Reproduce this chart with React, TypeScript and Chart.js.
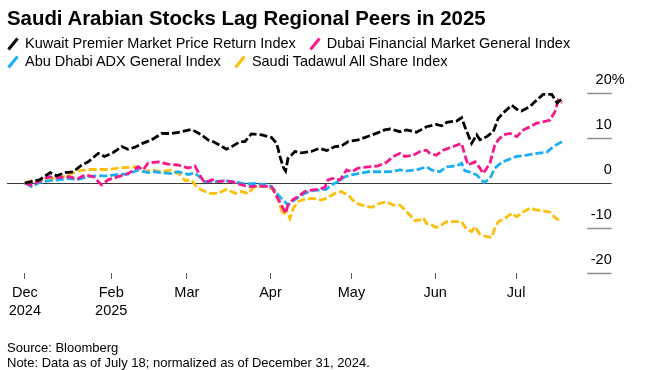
import React, { useEffect, useRef } from "react";
import { Chart, registerables } from "chart.js";

Chart.register(...registerables);

// ---------- DATA (x = days since Dec 31, 2024; y = % change) ----------
const SERIES_NAMES = [
  "Kuwait Premier Market Price Return Index",
  "Dubai Financial Market General Index",
  "Abu Dhabi ADX General Index",
  "Saudi Tadawul All Share Index",
];
const SERIES_COLORS = ["#000000", "#f7198c", "#1aaef2", "#fcbf0c"];

const KUWAIT_DAYS = [0, 2.3, 5.4, 9.4, 11.8, 14.9, 17.9, 21.1, 23.5, 27.2, 29.5, 32.6, 35.9, 38.2, 40.6, 43.6, 47, 50.7, 54.4, 58.1, 61.8, 65.5, 67.8, 69.7, 72.2, 74.7, 77, 79.7, 81.5, 83.9, 87.8, 91.4, 93.3, 94.5, 95.7, 96.6, 97.5, 98.8, 100, 102.6, 106.1, 109.1, 111.8, 114.9, 117.2, 119.8, 123.5, 127.3, 130.9, 133.3, 135.3, 139, 141.4, 145.1, 148.8, 152.4, 154.4, 156.3, 160, 161.8, 163, 164.2, 165.5, 167.4, 168.6, 171.1, 173.5, 175.4, 177.8, 180.4, 182.2, 184, 187.1, 189.6, 192, 195.2, 197.2, 199];
const KUWAIT_VALUES = [0, 0.3, 0.7, 2.3, 1.6, 2.3, 2.5, 4.0, 4.7, 6.6, 5.9, 6.7, 8.1, 7.5, 7.9, 8.8, 9.6, 11, 11, 11.4, 11.9, 10.7, 9.6, 9.2, 8.4, 7.5, 8.2, 9.2, 9.2, 10.9, 10.7, 10.1, 8.8, 5.9, 3.6, 2.7, 5.5, 6.2, 7.0, 6.7, 7.0, 7.7, 7.2, 8.1, 8.2, 9.2, 9.6, 10.4, 11.2, 11.8, 12, 11.4, 11.8, 11.3, 12.5, 13, 12.7, 13.5, 13.8, 14.5, 12.5, 10.7, 8.8, 10.7, 9.6, 10.3, 11.4, 14.4, 15.9, 17.3, 16.4, 16, 17, 18.4, 19.7, 19.7, 17.8, 18.7];

const DUBAI_DAYS = [0, 2.5, 5, 8.7, 12.4, 16.1, 19.8, 22.3, 25.4, 28.4, 30.9, 34.6, 38.3, 42, 43.8, 45.6, 49.5, 53.1, 56.7, 60.6, 63, 64.8, 66.7, 69.2, 71.6, 74.2, 76.6, 79.1, 82.7, 86.5, 91.4, 93.3, 95.1, 96.6, 97.5, 99.5, 101.3, 103.7, 106.1, 108.6, 111.1, 112.3, 114.2, 116.8, 119.2, 121.1, 123.5, 127.3, 130.9, 134, 136.5, 139, 140.8, 143.9, 146.4, 148.8, 150, 152.4, 155, 158.7, 161.8, 163, 164.2, 166.8, 168.6, 169.8, 171.1, 172.3, 174.1, 175.4, 177.2, 179.8, 182.2, 184.7, 187.1, 189.6, 192, 194.6, 196.4, 197.6, 199];
const DUBAI_VALUES = [0, -0.5, 0.3, 1.4, 1.2, 1.4, 1.0, 1.8, 1.4, -0.4, 0.7, 1.4, 2.1, 3.6, 2.9, 4.4, 4.7, 4.2, 4.0, 3.3, 3.8, 1.8, 0, 0.7, 0.3, 0.5, 0.3, -0.2, -0.8, -0.7, -0.8, -3, -4.9, -6.7, -4.9, -3.6, -3, -1.9, -1.6, -1.4, -1, 0.7, 1.0, 0.7, 2.9, 2.5, 3.3, 3.6, 3.8, 4.6, 5.9, 6.6, 5.9, 6.2, 7, 7.3, 6.6, 6.2, 7.3, 8.1, 8.8, 6.2, 4.0, 4.7, 3.3, 2.1, 3.3, 4.4, 8.4, 9.6, 10.7, 11, 10.3, 11.8, 12.5, 13.3, 13.6, 14, 15.9, 18.4, 17.8];

const ABUDHABI_DAYS = [0, 2.5, 5, 8.7, 12.4, 16.1, 19.8, 23.5, 27.2, 30.9, 34.6, 38.3, 42, 45.6, 48.1, 50.7, 54.4, 56.7, 60.6, 63, 65.5, 66.7, 70.4, 74.2, 77.9, 81.5, 85.2, 90.2, 92, 93.9, 95.7, 97.5, 99.5, 101.3, 103.7, 106.1, 108.6, 111.6, 113.6, 116, 118.6, 121.1, 123.5, 127.3, 130.9, 135.3, 139, 141.4, 145.1, 148.8, 150.6, 153.7, 156.3, 160, 161.8, 163, 164.9, 167.4, 168.6, 170.1, 172.3, 174.1, 176.6, 179.6, 182.2, 185.9, 189.6, 193.3, 195.8, 199];
const ABUDHABI_VALUES = [0, -0.8, 0, 0.5, 0.7, 1.0, 0.8, 1.4, 1.6, 1.6, 1.9, 2.0, 2.9, 2.3, 2.5, 2.3, 2.1, 2.5, 1.9, 2.2, 1.0, 0.3, 0.3, 0.5, 0.3, -0.2, -0.1, -0.4, -1.2, -2.7, -3.8, -4.9, -3.9, -3.2, -2.3, -1.7, -1.6, -1.4, -0.4, 0.3, 1.4, 1.8, 2.1, 2.5, 2.5, 2.5, 2.9, 2.7, 2.9, 3.6, 2.9, 2.5, 3.6, 3.8, 4.4, 2.7, 2.4, 1.8, 1.0, 0.1, 1.0, 3.3, 4.6, 5.3, 5.9, 6.2, 6.6, 6.8, 8.1, 9.2];

const SAUDI_DAYS = [0, 2.5, 5, 8.7, 12.4, 16.1, 19.8, 23.5, 27.2, 30.9, 34.6, 38.3, 41.3, 43.8, 47, 50.7, 54.4, 57.5, 59.4, 61.8, 63.7, 66.1, 68.6, 71.6, 74.8, 77.9, 80.3, 82.7, 84.6, 86.5, 90.2, 92.6, 94.5, 95.7, 96.9, 98.2, 99.5, 101.3, 103.7, 106.8, 109.9, 112.4, 114.9, 117.2, 119.8, 122.4, 124.8, 128.5, 131.6, 134, 136.5, 139, 140.8, 142.6, 144.5, 146.4, 147.6, 148.8, 150.6, 152.4, 154.4, 156.3, 160, 161.8, 163.6, 165.5, 166.7, 168.6, 171.1, 172.9, 174.1, 175.4, 177.8, 180.4, 182.2, 184.7, 187.1, 189.6, 192, 194.6, 196.4, 198.2];
const SAUDI_VALUES = [0, 0.5, 0.5, 1.0, 1.0, 1.8, 2.7, 3.0, 3.0, 3.0, 3.3, 3.5, 3.6, 2.5, 2.9, 2.5, 2.9, 1.8, 0.5, 0.7, -1, -1.7, -2.3, -2.3, -1.4, -2.3, -1.9, -2.4, -1, -0.8, -0.8, -1.6, -4.9, -7.1, -6, -7.9, -5.6, -4.1, -3.6, -3.4, -3.8, -3.2, -2.3, -1.9, -2.7, -4.4, -4.9, -5.4, -4.5, -4.2, -4.9, -4.9, -6, -7.1, -8.4, -8.2, -7.7, -9, -9.3, -9.9, -9.3, -8.6, -8.6, -8.6, -10.2, -10.8, -9.7, -11.4, -11.9, -12.1, -10, -8.6, -7.9, -6.7, -7.5, -6.4, -5.6, -6, -6.2, -6.5, -7.7, -8.4];

const X_TICK_DAYS = [0, 32, 60, 91, 121, 152, 182];
const X_TICK_LABELS = [["Dec", "2024"], ["Feb", "2025"], ["Mar"], ["Apr"], ["May"], ["Jun"], ["Jul"]];
const Y_TICKS = [20, 10, 0, -10, -20];
const Y_TICK_LABELS = ["20", "10", "0", "-10", "-20"];
const Y_UNIT = "%";

const TITLE = "Saudi Arabian Stocks Lag Regional Peers in 2025";
const SOURCE = "Source: Bloomberg";
const NOTE = "Note: Data as of July 18; normalized as of December 31, 2024.";

const FONT = '"Liberation Sans", Arial, Helvetica, sans-serif';

const SERIES_DAYS = [KUWAIT_DAYS, DUBAI_DAYS, ABUDHABI_DAYS, SAUDI_DAYS];
const SERIES_VALUES = [KUWAIT_VALUES, DUBAI_VALUES, ABUDHABI_VALUES, SAUDI_VALUES];

const yAxisPlugin = {
  id: "rightValueAxis",
  beforeDatasetsDraw(chart: any) {
    const { ctx, chartArea, scales } = chart;
    const y = scales.y;
    ctx.save();
    Y_TICKS.forEach((v, i) => {
      const py = Math.round(y.getPixelForValue(v)) + 0.5;
      ctx.beginPath();
      if (v === 0) {
        ctx.strokeStyle = "#3a3a3a";
        ctx.lineWidth = 1;
        ctx.moveTo(chartArea.left, py);
      } else {
        ctx.strokeStyle = "#8f8f8f";
        ctx.lineWidth = 1.5;
        ctx.moveTo(chartArea.right - 24.5, py);
      }
      ctx.lineTo(chartArea.right, py);
      ctx.stroke();
      ctx.fillStyle = "#000";
      ctx.font = `14.5px ${FONT}`;
      ctx.textBaseline = "middle";
      ctx.textAlign = "right";
      ctx.fillText(Y_TICK_LABELS[i], chartArea.right, py - 13.7);
      if (i === 0) {
        ctx.textAlign = "left";
        ctx.fillText(Y_UNIT, chartArea.right, py - 13.7);
      }
    });
    ctx.restore();
  },
};

function LegendItem({ color, label }: { color: string; label: string }) {
  return (
    <span style={{ display: "inline-flex", alignItems: "center", marginRight: 12, whiteSpace: "nowrap" }}>
      <svg width={14} height={14} style={{ marginRight: 5, flex: "none" }}>
        <line x1={2.5} y1={12.5} x2={11.5} y2={1.5} stroke={color} strokeWidth={3} />
      </svg>
      <span>{label}</span>
    </span>
  );
}

export default function App() {
  const canvasRef = useRef<HTMLCanvasElement | null>(null);

  useEffect(() => {
    if (!canvasRef.current) return;
    const chart = new Chart(canvasRef.current, {
      type: "line",
      data: {
        datasets: SERIES_NAMES.map((name, s) => ({
          label: name,
          data: SERIES_DAYS[s].map((d, i) => ({ x: d, y: SERIES_VALUES[s][i] })),
          borderColor: SERIES_COLORS[s],
          backgroundColor: SERIES_COLORS[s],
          borderWidth: 2.8,
          borderDash: [8, 3],
          pointRadius: 0,
          fill: false,
          tension: 0,
          clip: false as any,
        })),
      },
      options: {
        animation: false,
        responsive: false,
        devicePixelRatio: 1,
        layout: { padding: { left: 7, right: 54.3, top: 93, bottom: 37 } },
        plugins: {
          legend: { display: false },
          tooltip: { enabled: false },
          title: { display: false },
        },
        scales: {
          x: {
            type: "linear",
            min: -6.6,
            max: 217.4,
            border: { display: false },
            grid: { drawOnChartArea: false, drawTicks: true, tickLength: 6, color: "#555", tickWidth: 1 },
            ticks: {
              autoSkip: false,
              maxRotation: 0,
              minRotation: 0,
              padding: 5,
              color: "#000",
              font: { family: FONT, size: 14.5, lineHeight: 1.22 },
              callback: (value: any) => {
                const i = X_TICK_DAYS.indexOf(Number(value));
                return i >= 0 ? X_TICK_LABELS[i] : "";
              },
            },
            afterBuildTicks: (scale: any) => {
              scale.ticks = X_TICK_DAYS.map((v) => ({ value: v }));
            },
            afterFit: (scale: any) => {
              scale.height = 60;
            },
          },
          y: { type: "linear", min: -20, max: 20, display: false },
        },
      } as any,
      plugins: [yAxisPlugin],
    });
    return () => chart.destroy();
  }, []);

  return (
    <div style={{ position: "absolute", left: 0, top: 0, width: 666, height: 370, background: "#fff", fontFamily: FONT, color: "#000" }}>
      <canvas ref={canvasRef} width={666} height={370} style={{ position: "absolute", left: 0, top: 0, width: 666, height: 370 }} />
      <div style={{ position: "absolute", left: 7, top: 6, fontSize: 20.4, fontWeight: 700, lineHeight: "24px", whiteSpace: "nowrap" }}>
        {TITLE}
      </div>
      <div style={{ position: "absolute", left: 6, top: 35, width: 640, fontSize: 14.5, lineHeight: "17.7px" }}>
        <div style={{ height: 17.7, display: "flex", alignItems: "center" }}>
          <LegendItem color={SERIES_COLORS[0]} label={SERIES_NAMES[0]} />
          <LegendItem color={SERIES_COLORS[1]} label={SERIES_NAMES[1]} />
        </div>
        <div style={{ height: 17.7, display: "flex", alignItems: "center" }}>
          <LegendItem color={SERIES_COLORS[2]} label={SERIES_NAMES[2]} />
          <LegendItem color={SERIES_COLORS[3]} label={SERIES_NAMES[3]} />
        </div>
      </div>
      <div style={{ position: "absolute", left: 7, top: 340, fontSize: 13, lineHeight: "15px", whiteSpace: "nowrap" }}>
        <div>{SOURCE}</div>
        <div>{NOTE}</div>
      </div>
    </div>
  );
}
